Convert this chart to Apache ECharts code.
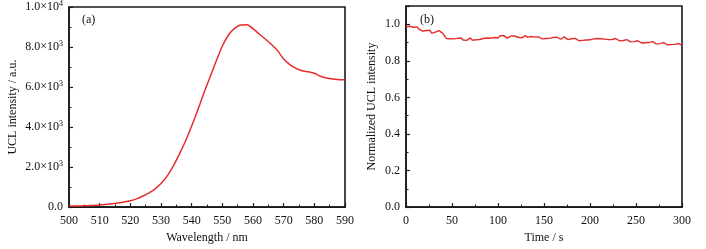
<!DOCTYPE html>
<html>
<head>
<meta charset="utf-8">
<script src="https://cdn.jsdelivr.net/npm/echarts@6/dist/echarts.min.js"></script>
<style>
  html, body { margin: 0; padding: 0; background: #fff; }
  #chart { width: 706px; height: 249px; }
</style>
</head>
<body>
<div id="chart"></div>
<script>
// panel (a): emission spectrum
const wavelengthNm = [500, 502, 504, 506, 508, 510, 512, 514, 516, 518, 520, 522, 524, 526, 528, 530,
  532, 534, 536, 538, 540, 542, 544, 546, 548, 550, 552, 554, 556, 558, 560, 562, 564, 566, 568, 570,
  572, 574, 576, 578, 580, 582, 584, 586, 588, 590];
const uclIntensity = [50, 55, 60, 70, 85, 100, 130, 165, 210, 260, 320, 410, 540, 700, 900, 1180,
  1550, 2050, 2650, 3300, 4050, 4850, 5700, 6500, 7300, 8050, 8600, 8930, 9100, 9110, 8920, 8650,
  8400, 8130, 7820, 7400, 7120, 6930, 6810, 6760, 6690, 6540, 6450, 6400, 6370, 6360];

// panel (b): normalized intensity vs time, one sample every 2 s from 0 s
const sampleStepS = 2;
const normIntensity = [
  0.986, 0.995, 0.989, 0.997, 0.984, 0.979, 0.986, 0.974, 0.970, 0.963,
  0.957, 0.966, 0.958, 0.967, 0.952, 0.947, 0.957, 0.961, 0.965, 0.955,
  0.950, 0.936, 0.922, 0.914, 0.921, 0.913, 0.920, 0.912, 0.923, 0.916,
  0.925, 0.914, 0.922, 0.912, 0.921, 0.926, 0.913, 0.923, 0.915, 0.924,
  0.917, 0.911, 0.922, 0.914, 0.925, 0.916, 0.924, 0.918, 0.928, 0.932,
  0.925, 0.936, 0.928, 0.939, 0.930, 0.924, 0.932, 0.935, 0.925, 0.936,
  0.938, 0.929, 0.936, 0.926, 0.934, 0.939, 0.928, 0.925, 0.933, 0.923,
  0.930, 0.922, 0.931, 0.924, 0.920, 0.929, 0.922, 0.932, 0.923, 0.919,
  0.928, 0.921, 0.930, 0.922, 0.918, 0.927, 0.931, 0.921, 0.916, 0.910,
  0.921, 0.913, 0.923, 0.915, 0.910, 0.920, 0.912, 0.921, 0.914, 0.923,
  0.915, 0.911, 0.920, 0.913, 0.922, 0.914, 0.921, 0.912, 0.919, 0.923,
  0.916, 0.925, 0.917, 0.913, 0.922, 0.914, 0.910, 0.919, 0.911, 0.907,
  0.916, 0.908, 0.904, 0.913, 0.905, 0.901, 0.910, 0.902, 0.898, 0.907,
  0.899, 0.908, 0.900, 0.896, 0.905, 0.897, 0.893, 0.902, 0.894, 0.891,
  0.900, 0.892, 0.888, 0.897, 0.889, 0.894, 0.890, 0.886, 0.895, 0.887,
  0.884
];

const leftTickLabels = ['0.0', '2.0×10{s|3}', '4.0×10{s|3}', '6.0×10{s|3}', '8.0×10{s|3}', '1.0×10{s|4}'];

const chart = echarts.init(document.getElementById('chart'), null, { renderer: 'canvas' });

const font = 'Liberation Serif';
const lineColor = '#e62d2d';
const axisColor = '#1a1a1a';

function axisBase() {
  return {
    axisLine: { show: true, onZero: false, lineStyle: { color: axisColor, width: 1.6 } },
    axisTick: { show: true, inside: true, length: 4, lineStyle: { color: axisColor, width: 1.2 } },
    minorTick: { show: true, splitNumber: 2, length: 2.5, lineStyle: { color: axisColor, width: 1 } },
    splitLine: { show: false },
    axisLabel: { color: '#111', fontFamily: font, fontSize: 12 },
    nameTextStyle: { color: '#111', fontFamily: font, fontSize: 12 }
  };
}

const option = {
  animation: false,
  backgroundColor: '#fff',
  grid: [
    { left: 69, right: 361, top: 6, bottom: 36, show: true, borderColor: axisColor, borderWidth: 1.6 },
    { left: 406, right: 24, top: 6, bottom: 36, show: true, borderColor: axisColor, borderWidth: 1.6 }
  ],
  xAxis: [
    Object.assign(axisBase(), {
      gridIndex: 0, type: 'value', min: 500, max: 590, interval: 10,
      name: 'Wavelength / nm', nameLocation: 'middle', nameGap: 23
    }),
    Object.assign(axisBase(), {
      gridIndex: 1, type: 'value', min: 0, max: 300, interval: 50,
      name: 'Time / s', nameLocation: 'middle', nameGap: 23
    })
  ],
  yAxis: [
    Object.assign(axisBase(), {
      gridIndex: 0, type: 'value', min: 0, max: 10000, interval: 2000,
      name: 'UCL intensity / a.u.', nameLocation: 'middle', nameGap: 50,
      axisLabel: {
        color: '#111', fontFamily: font, fontSize: 12, margin: 6,
        formatter: (v) => leftTickLabels[Math.round(v / 2000)] || '',
        rich: { s: { fontSize: 8, fontFamily: font, color: '#111', verticalAlign: 'top', padding: [0, 0, 6, 0] } }
      }
    }),
    Object.assign(axisBase(), {
      gridIndex: 1, type: 'value', min: 0, max: 1.1, interval: 0.2,
      name: 'Normalized UCL intensity', nameLocation: 'middle', nameGap: 28,
      axisLabel: {
        color: '#111', fontFamily: font, fontSize: 12, margin: 6, showMaxLabel: false,
        formatter: (v) => (Math.abs(v / 0.2 - Math.round(v / 0.2)) < 1e-6 ? v.toFixed(1) : '')
      }
    })
  ],
  graphic: [
    { type: 'text', left: 82, top: 14, style: { text: '(a)', font: '12px "Liberation Serif"', fill: '#111' } },
    { type: 'text', left: 420, top: 14, style: { text: '(b)', font: '12px "Liberation Serif"', fill: '#111' } }
  ],
  series: [
    {
      type: 'line', xAxisIndex: 0, yAxisIndex: 0, showSymbol: false, smooth: 0.3,
      lineStyle: { color: lineColor, width: 1.5 },
      data: wavelengthNm.map((w, i) => [w, uclIntensity[i]])
    },
    {
      type: 'line', xAxisIndex: 1, yAxisIndex: 1, showSymbol: false,
      lineStyle: { color: lineColor, width: 1.4 },
      data: normIntensity.map((v, i) => [i * sampleStepS, v])
    }
  ]
};

chart.setOption(option);
</script>
</body>
</html>
